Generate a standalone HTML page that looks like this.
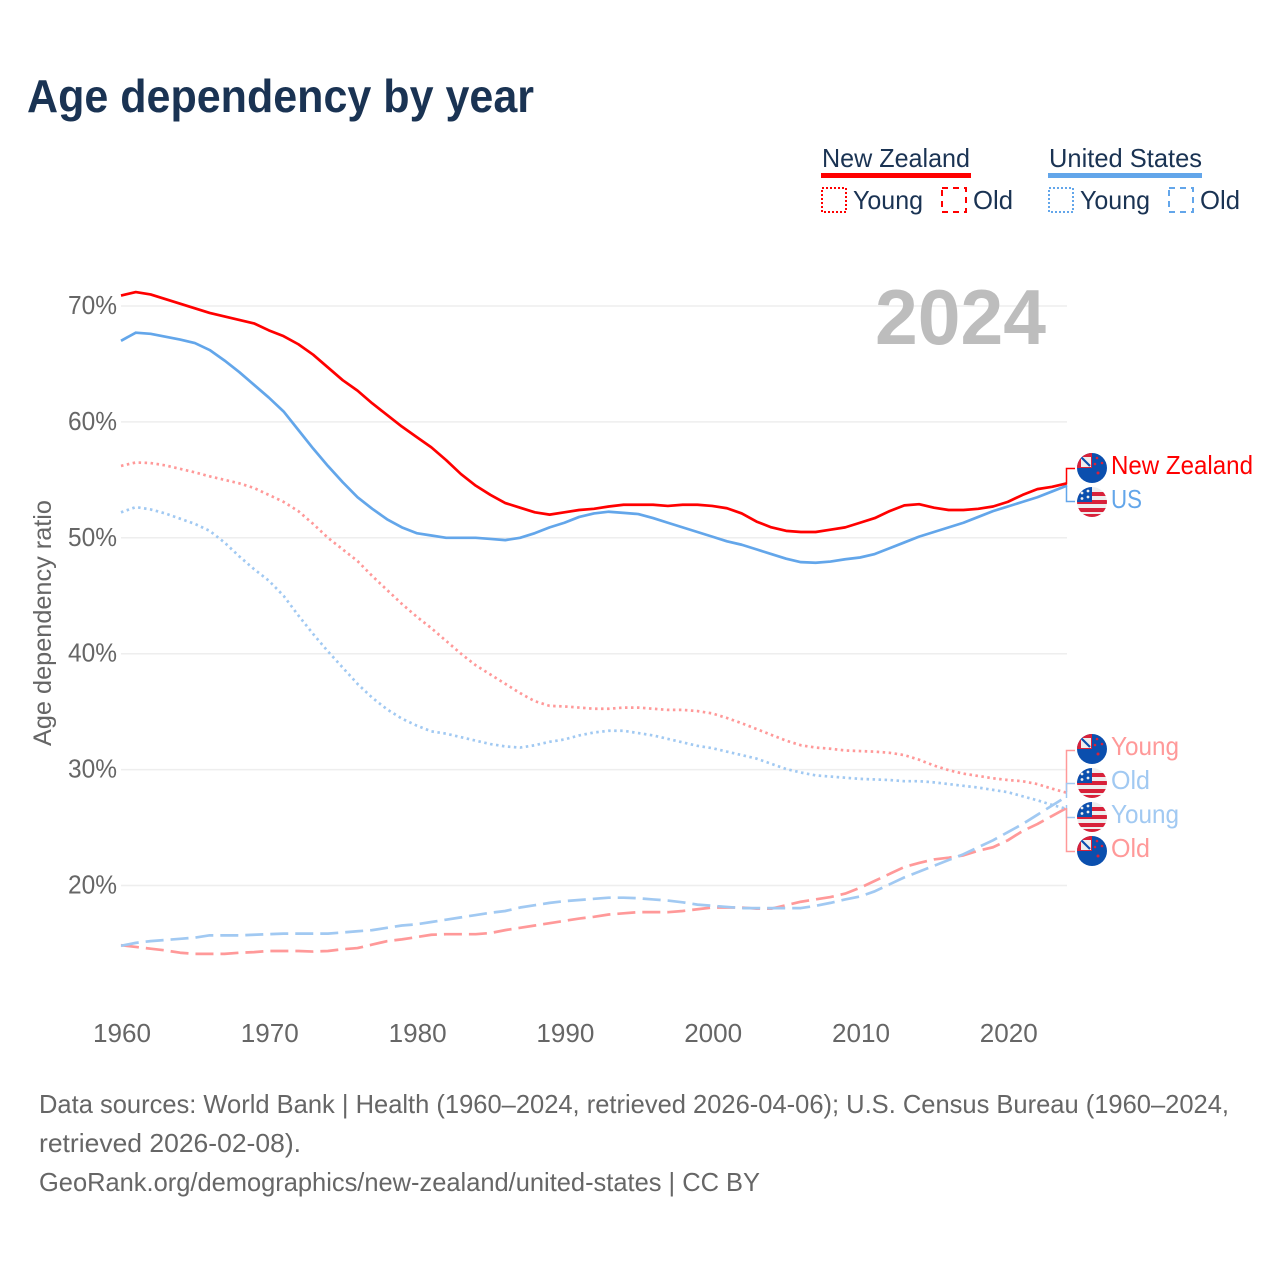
<!DOCTYPE html>
<html lang="en">
<head>
<meta charset="utf-8">
<title>Age dependency by year</title>
<style>
html,body{margin:0;padding:0;background:#fff;}
svg{display:block;font-family:"Liberation Sans",sans-serif;}
</style>
</head>
<body>
<svg id="chart" width="1280" height="1280" viewBox="0 0 1280 1280" xmlns="http://www.w3.org/2000/svg">
<defs>
<clipPath id="flag-clip"><circle cx="0" cy="0" r="15"/></clipPath>
<g id="flag-nz" clip-path="url(#flag-clip)">
  <rect x="-15" y="-15" width="30" height="30" fill="#0b4fae"/>
  <rect x="-15" y="-15" width="15" height="15" fill="#d8213a"/>
  <rect x="-11" y="-11" width="10" height="10" fill="#eeeeee"/>
  <path d="M-11-11L-2-2" stroke="#0b4fae" stroke-width="2.2"/>
  <circle cx="5" cy="-10" r="1.3" fill="#d8213a"/>
  <circle cx="10" cy="-5" r="1.3" fill="#d8213a"/>
  <circle cx="3" cy="-4" r="1.3" fill="#d8213a"/>
  <circle cx="6" cy="5" r="1.5" fill="#d8213a"/>
</g>
<g id="flag-us" clip-path="url(#flag-clip)">
  <rect x="-15" y="-15" width="30" height="30" fill="#eeeeee"/>
  <rect x="-15" y="-10" width="30" height="4" fill="#d8213a"/>
  <rect x="-15" y="-2" width="30" height="4" fill="#d8213a"/>
  <rect x="-15" y="6" width="30" height="4" fill="#d8213a"/>
  <rect x="-15" y="12" width="30" height="4" fill="#d8213a"/>
  <rect x="-15" y="-15" width="15" height="15" fill="#0b4fae"/>
  <circle cx="-10" cy="-9" r="1.4" fill="#eeeeee"/>
  <circle cx="-4" cy="-11" r="1.4" fill="#eeeeee"/>
  <circle cx="-10" cy="-3.5" r="1.4" fill="#eeeeee"/>
  <circle cx="-4" cy="-5" r="1.4" fill="#eeeeee"/>
</g>
</defs>

<text x="27" y="112" font-size="46" font-weight="700" fill="#1a3353" textLength="507" lengthAdjust="spacingAndGlyphs">Age dependency by year</text>

<g>
  <g>
    <text x="822" y="167" font-size="26" fill="#1a3353" textLength="148" lengthAdjust="spacingAndGlyphs">New Zealand</text>
    <rect x="821" y="173" width="150" height="5" fill="#ff0000"/>
    <rect x="822" y="188" width="24" height="24" fill="none" stroke="#ff0000" stroke-width="2" stroke-dasharray="2 2"/>
    <text x="853" y="209" font-size="26" fill="#1a3353" textLength="70" lengthAdjust="spacingAndGlyphs">Young</text>
    <rect x="942" y="188" width="24" height="24" fill="none" stroke="#ff0000" stroke-width="2" stroke-dasharray="6 5"/>
    <text x="973" y="209" font-size="26" fill="#1a3353" textLength="40" lengthAdjust="spacingAndGlyphs">Old</text>
  </g>
  <g>
    <text x="1049" y="167" font-size="26" fill="#1a3353" textLength="153" lengthAdjust="spacingAndGlyphs">United States</text>
    <rect x="1048" y="173" width="154" height="5" fill="#63a6ea"/>
    <rect x="1049" y="188" width="24" height="24" fill="none" stroke="#63a6ea" stroke-width="2" stroke-dasharray="2 2"/>
    <text x="1080" y="209" font-size="26" fill="#1a3353" textLength="70" lengthAdjust="spacingAndGlyphs">Young</text>
    <rect x="1169" y="188" width="24" height="24" fill="none" stroke="#63a6ea" stroke-width="2" stroke-dasharray="6 5"/>
    <text x="1200" y="209" font-size="26" fill="#1a3353" textLength="40" lengthAdjust="spacingAndGlyphs">Old</text>
  </g>
</g>

<text transform="translate(51,623) rotate(-90)" text-anchor="middle" font-size="25" fill="#666" textLength="246" lengthAdjust="spacingAndGlyphs">Age dependency ratio</text>

<g id="grid"></g>
<g id="yticks"></g>
<g id="xticks"></g>

<text x="875" y="344" font-size="78" font-weight="700" fill="#bdbdbd" textLength="171" lengthAdjust="spacingAndGlyphs">2024</text>

<g id="series"></g>

<g>
  <path d="M1066.5 484V468.5H1075" fill="none" stroke="#ff0000" stroke-width="1.5"/>
  <path d="M1066.5 485V501.5H1075" fill="none" stroke="#63a6ea" stroke-width="1.5"/>
  <path d="M1066.5 792V750.5H1075" fill="none" stroke="#ff9999" stroke-width="1.5"/>
  <path d="M1066.5 798V783.5H1075" fill="none" stroke="#a1c9f2" stroke-width="1.5"/>
  <path d="M1066.5 805V817.5H1075" fill="none" stroke="#a1c9f2" stroke-width="1.5"/>
  <path d="M1066.5 808V851.5H1075" fill="none" stroke="#ff9999" stroke-width="1.5"/>

  <use href="#flag-nz" x="1092" y="468"/>
  <text x="1111" y="474" font-size="26" fill="#ff0000" textLength="142" lengthAdjust="spacingAndGlyphs">New Zealand</text>
  <use href="#flag-us" x="1092" y="502"/>
  <text x="1111" y="508" font-size="26" fill="#63a6ea" textLength="31" lengthAdjust="spacingAndGlyphs">US</text>

  <use href="#flag-nz" x="1092" y="749"/>
  <text x="1111" y="755" font-size="26" fill="#ff9999" textLength="68" lengthAdjust="spacingAndGlyphs">Young</text>
  <use href="#flag-us" x="1092" y="783"/>
  <text x="1111" y="789" font-size="26" fill="#a1c9f2" textLength="39" lengthAdjust="spacingAndGlyphs">Old</text>
  <use href="#flag-us" x="1092" y="817"/>
  <text x="1111" y="823" font-size="26" fill="#a1c9f2" textLength="68" lengthAdjust="spacingAndGlyphs">Young</text>
  <use href="#flag-nz" x="1092" y="851"/>
  <text x="1111" y="857" font-size="26" fill="#ff9999" textLength="39" lengthAdjust="spacingAndGlyphs">Old</text>
</g>

<g>
  <text x="39" y="1113" font-size="26" fill="#666" textLength="1190" lengthAdjust="spacingAndGlyphs">Data sources: World Bank | Health (1960–2024, retrieved 2026-04-06); U.S. Census Bureau (1960–2024,</text>
  <text x="39" y="1152" font-size="26" fill="#666" textLength="262" lengthAdjust="spacingAndGlyphs">retrieved 2026-02-08).</text>
  <text x="39" y="1191" font-size="26" fill="#666" textLength="721" lengthAdjust="spacingAndGlyphs">GeoRank.org/demographics/new-zealand/united-states | CC BY</text>
</g>
</svg>

<script>
const startYear = 1960;
const yTickValues = [20, 30, 40, 50, 60, 70];
const xTickYears = [1960, 1970, 1980, 1990, 2000, 2010, 2020];

const nzTotal = [70.9,71.2,71.0,70.6,70.2,69.8,69.4,69.1,68.8,68.5,67.9,67.4,66.7,65.8,64.7,63.6,62.7,61.6,60.6,59.6,58.7,57.8,56.7,55.5,54.5,53.7,53.0,52.6,52.2,52.0,52.2,52.4,52.5,52.7,52.85,52.85,52.85,52.75,52.85,52.85,52.75,52.55,52.1,51.4,50.9,50.6,50.5,50.5,50.7,50.9,51.3,51.7,52.3,52.8,52.9,52.6,52.4,52.4,52.5,52.7,53.1,53.7,54.2,54.4,54.7];
const usTotal = [67.0,67.7,67.6,67.35,67.1,66.8,66.2,65.3,64.3,63.2,62.1,60.9,59.3,57.7,56.2,54.8,53.5,52.5,51.6,50.9,50.4,50.2,50.0,50.0,50.0,49.9,49.8,50.0,50.4,50.9,51.3,51.8,52.1,52.25,52.15,52.05,51.7,51.3,50.9,50.5,50.1,49.7,49.4,49.0,48.6,48.2,47.9,47.85,47.95,48.15,48.3,48.6,49.1,49.6,50.1,50.5,50.9,51.3,51.8,52.3,52.7,53.1,53.5,54.0,54.5];
const nzYoung = [56.2,56.5,56.45,56.25,55.95,55.65,55.3,55.0,54.7,54.3,53.7,53.1,52.3,51.2,50.0,49.0,48.0,46.7,45.5,44.3,43.2,42.2,41.1,40.0,39.0,38.2,37.4,36.6,35.9,35.5,35.45,35.35,35.25,35.25,35.35,35.35,35.25,35.15,35.15,35.05,34.85,34.45,34.0,33.5,33.0,32.5,32.1,31.9,31.8,31.65,31.6,31.55,31.45,31.25,30.85,30.35,29.95,29.65,29.45,29.25,29.1,29.0,28.75,28.35,28.0];
const usYoung = [52.2,52.65,52.45,52.1,51.65,51.2,50.6,49.6,48.4,47.3,46.3,45.0,43.3,41.7,40.2,38.8,37.4,36.2,35.2,34.4,33.8,33.3,33.1,32.8,32.5,32.2,32.0,31.9,32.1,32.4,32.6,32.95,33.2,33.35,33.35,33.15,32.95,32.65,32.35,32.05,31.85,31.55,31.25,30.95,30.5,30.05,29.75,29.5,29.4,29.3,29.2,29.15,29.1,29.0,29.0,28.9,28.75,28.6,28.45,28.25,28.05,27.7,27.35,26.95,26.6];
const nzOld = [14.85,14.7,14.55,14.4,14.2,14.1,14.1,14.1,14.2,14.25,14.35,14.35,14.35,14.3,14.35,14.5,14.6,14.9,15.2,15.35,15.55,15.75,15.8,15.8,15.8,15.9,16.15,16.35,16.55,16.75,16.95,17.15,17.3,17.5,17.6,17.7,17.7,17.7,17.8,17.95,18.1,18.1,18.1,18.0,18.0,18.3,18.6,18.8,19.0,19.3,19.8,20.4,21.0,21.6,21.95,22.25,22.4,22.6,23.0,23.3,23.9,24.7,25.3,26.0,26.7];
const usOld = [14.8,15.05,15.2,15.3,15.4,15.5,15.7,15.7,15.7,15.75,15.8,15.85,15.85,15.85,15.85,15.95,16.05,16.15,16.35,16.55,16.65,16.85,17.05,17.25,17.45,17.65,17.8,18.1,18.3,18.5,18.65,18.75,18.85,18.95,18.95,18.9,18.8,18.7,18.55,18.35,18.25,18.15,18.05,18.05,18.05,18.05,18.05,18.25,18.5,18.8,19.05,19.5,20.1,20.7,21.2,21.7,22.2,22.7,23.3,23.9,24.6,25.3,26.1,26.9,27.7];

const NS = 'http://www.w3.org/2000/svg';
function xScale(year) { return 121 + (year - 1960) * 14.78; }
function yScale(v) { return 306 + (70 - v) * 11.59; }
function make(tag, parent, attrs, text) {
  const el = document.createElementNS(NS, tag);
  for (const k in attrs) el.setAttribute(k, attrs[k]);
  if (text !== undefined) el.textContent = text;
  parent.appendChild(el);
  return el;
}

const grid = document.getElementById('grid');
const yticks = document.getElementById('yticks');
const xticks = document.getElementById('xticks');
const seriesGroup = document.getElementById('series');

yTickValues.forEach(function (v) {
  const line = make('line', grid, { x1: 121, x2: 1067, y1: yScale(v), y2: yScale(v), stroke: '#eeeeee', 'stroke-width': 1.5 });
  
  
  const label = make('text', yticks, { x: 68, y: yScale(v) + 8, 'font-size': 26, fill: '#666', textLength: 49, lengthAdjust: 'spacingAndGlyphs' }, v + '%');
  
  
});

xTickYears.forEach(function (yr) {
  const label = make('text', xticks, { x: xScale(yr) + 1, y: 1042, 'font-size': 26, fill: '#666', 'text-anchor': 'middle', textLength: 58, lengthAdjust: 'spacingAndGlyphs' }, String(yr));
  
  
});

const seriesList = [
  { id: 'nz-old', values: nzOld, color: '#ff9999', dash: '18 7', halo: true },
  { id: 'us-old', values: usOld, color: '#a1c9f2', dash: '18 7', halo: true },
  { id: 'nz-young', values: nzYoung, color: '#ff9999', dash: '2.5 3.5', halo: false },
  { id: 'us-young', values: usYoung, color: '#a1c9f2', dash: '2.5 3.5', halo: false },
  { id: 'us-total', values: usTotal, color: '#63a6ea', dash: 'none', halo: false },
  { id: 'nz-total', values: nzTotal, color: '#ff0000', dash: 'none', halo: false }
];

seriesList.forEach(function (s) {
  const d = s.values.map(function (v, i) {
    return (i ? 'L' : 'M') + xScale(startYear + i).toFixed(2) + ' ' + yScale(v).toFixed(2);
  }).join('');
  const path = make('path', seriesGroup, { d: d, fill: 'none', stroke: s.color, 'stroke-width': 2.7, 'stroke-dasharray': s.dash, 'stroke-linejoin': 'round' });
  
  
});
</script>
</body>
</html>
